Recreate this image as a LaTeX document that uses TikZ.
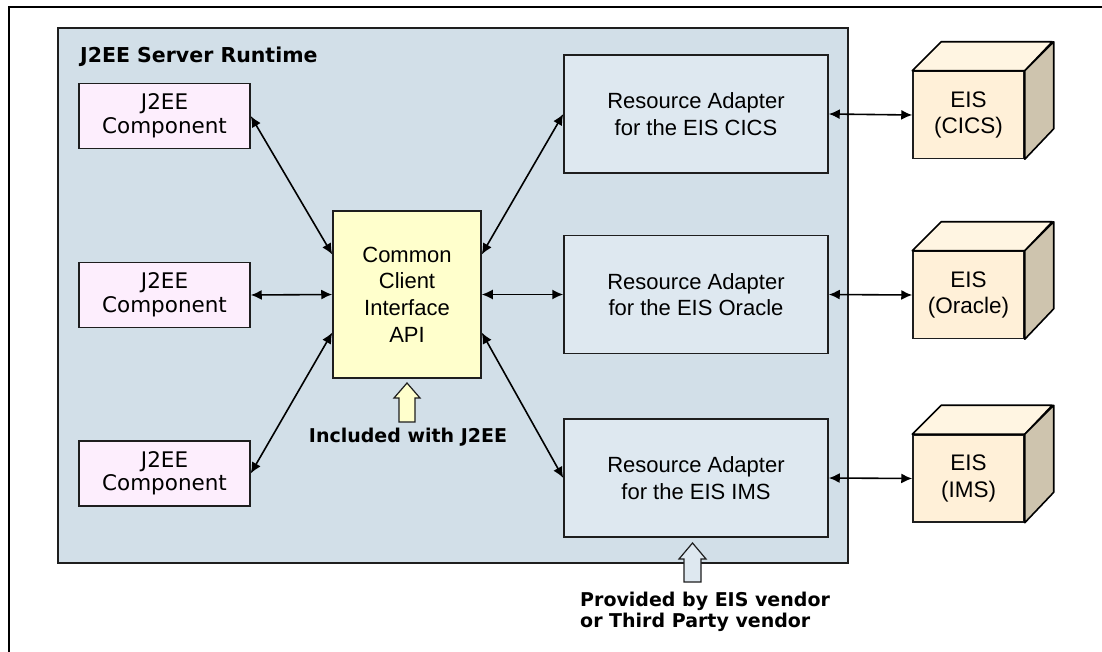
\documentclass[tikz,border=0pt]{standalone}
\usepackage{fontspec}
\setmainfont{Liberation Sans}
\newfontfamily\verd{DejaVu Sans}
\usetikzlibrary{arrows.meta}
\definecolor{serverfill}{RGB}{210,223,232}
\definecolor{compfill}{RGB}{253,238,253}
\definecolor{ccifill}{RGB}{255,255,204}
\definecolor{rafill}{RGB}{222,232,240}
\definecolor{eisfront}{RGB}{255,240,216}
\definecolor{eistop}{RGB}{255,245,226}
\definecolor{eisside}{RGB}{206,196,174}
\definecolor{edge}{RGB}{30,30,30}
\tikzset{
  box/.style={draw=edge, line width=1.5pt, inner sep=0pt, align=center},
  compbox/.style={box, fill=compfill, minimum width=171pt, minimum height=65pt,
    font=\verd\fontsize{21.5}{23.5}\selectfont},
  ccibox/.style={box, fill=ccifill, minimum width=148pt, minimum height=167pt,
    font=\fontsize{22}{26.6}\selectfont},
  rabox/.style={box, fill=rafill, minimum width=264pt, minimum height=118pt,
    font=\fontsize{22}{26.6}\selectfont},
  eisbox/.style={box, fill=eisfront, minimum width=111pt, minimum height=87pt,
    font=\fontsize{22.5}{26.6}\selectfont},
  conn/.style={line width=1.6pt, {Latex[length=11pt,width=10pt]}-{Latex[length=11pt,width=10pt]}},
  boldlbl/.style={font=\verd\bfseries\fontsize{19}{21}\selectfont, inner sep=0pt},
  blockarrow/.style={draw=edge, line width=1.2pt, line join=miter},
  cubeface/.style={draw=black, line width=1.6pt, line join=round}
}
\begin{document}
\begin{tikzpicture}[x=1pt,y=-1pt]
\useasboundingbox (0,0) rectangle (1102,652);
% outer frame (extends past the picture)
\draw[line width=1.6pt] (9,652) -- (9,7) -- (1102,7);
% server runtime
\node[draw=edge, line width=2pt, fill=serverfill, minimum width=790pt, minimum height=535pt, inner sep=0pt] (server) at (453,295.5) {};
\node[anchor=west, font=\verd\bfseries\fontsize{20.5}{22}\selectfont, inner sep=0pt] (title) at (80,57) {J2EE Server Runtime};
% components
\node[compbox] (c1) at (164.5,116) {J2EE\\Component};
\node[compbox] (c2) at (164.5,295) {J2EE\\Component};
\node[compbox] (c3) at (164.5,473.5) {J2EE\\Component};
% CCI
\node[ccibox] (cci) at (407,294.5) {Common\\Client\\Interface\\API};
% resource adapters
\node[rabox] (ra1) at (696,114) {Resource Adapter\\for the EIS CICS};
\node[rabox] (ra2) at (696,294.5) {Resource Adapter\\for the EIS Oracle};
\node[rabox] (ra3) at (696,478) {Resource Adapter\\for the EIS IMS};
% EIS cubes
\foreach \n/\y/\t in {e1/115/{EIS\\(CICS)}, e2/295/{EIS\\(Oracle)}, e3/478.5/{EIS\\(IMS)}}{
  \node[eisbox] (\n) at (968.5,\y) {\t};
  \draw[cubeface, fill=eistop] (\n.north west) -- ++(29,-29) -- ++(111,0) -- (\n.north east) -- cycle;
  \draw[cubeface, fill=eisside] (\n.north east) -- ++(29,-29) -- ++(0,87) -- (\n.south east) -- cycle;
}
% connectors
\draw[conn] (c1.east) -- ([yshift=40pt]cci.west);
\draw[conn] (c2.east) -- (cci.west);
\draw[conn] (c3.east) -- ([yshift=-38pt]cci.west);
\draw[conn] ([yshift=40pt]cci.east) -- (ra1.west);
\draw[conn] (cci.east) -- (ra2.west);
\draw[conn] ([yshift=-38pt]cci.east) -- (ra3.west);
\draw[conn] (ra1.east) -- (e1.west);
\draw[conn] (ra2.east) -- (e2.west);
\draw[conn] (ra3.east) -- (e3.west);
% block arrows
\coordinate (t1) at (407,383);
\draw[blockarrow, fill=ccifill] (t1) -- ++(13,15) -- ++(-5,0) -- ++(0,24) -- ++(-16,0) -- ++(0,-24) -- ++(-5,0) -- cycle;
\node[boldlbl] (lbl1) at (408,437) {Included with J2EE};
\coordinate (t2) at (692.5,543);
\draw[blockarrow, fill=rafill] (t2) -- ++(13.5,16) -- ++(-5,0) -- ++(0,23) -- ++(-17,0) -- ++(0,-23) -- ++(-5,0) -- cycle;
\node[boldlbl, anchor=west, align=left] (lbl2) at (580,612) {Provided by EIS vendor\\or Third Party vendor};
\end{tikzpicture}
\end{document}
